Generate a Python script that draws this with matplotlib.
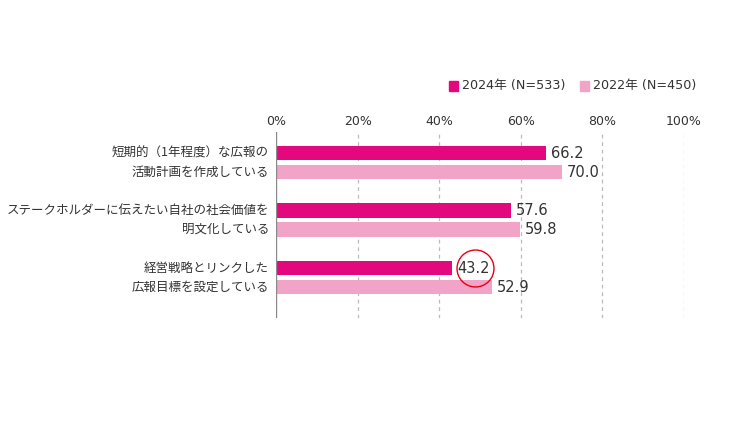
import matplotlib
matplotlib.use("Agg")
import matplotlib.pyplot as plt
import numpy as np

plt.rcParams['font.family'] = ['Noto Sans CJK JP', 'DejaVu Sans']
NUMFONT = ['DejaVu Sans', 'Noto Sans CJK JP']

categories = [
    "短期的（1年程度）な広報の\n活動計画を作成している",
    "ステークホルダーに伝えたい自社の社会価値を\n明文化している",
    "経営戦略とリンクした\n広報目標を設定している",
]
series_names = ["2024年 (N=533)", "2022年 (N=450)"]
values_2024 = [66.2, 57.6, 43.2]
values_2022 = [70.0, 59.8, 52.9]
xticks = [0, 20, 40, 60, 80, 100]
xtick_labels = ["0%", "20%", "40%", "60%", "80%", "100%"]
highlight_index = 2  # circled value (2024 series)

c_dark = "#E4087F"
c_light = "#F2A3C8"
txt = "#333333"

W, H = 750, 422
fig = plt.figure(figsize=(W / 100, H / 100), dpi=100)
ax_l, ax_r = 276 / W, 684 / W
ax_top, ax_bot = 132 / H, 318 / H
ax = fig.add_axes([ax_l, 1 - ax_bot, ax_r - ax_l, ax_bot - ax_top])

y = np.arange(len(categories))
off = 0.165
h = 0.25
ax.barh(y - off, values_2024, height=h, color=c_dark, zorder=3)
ax.barh(y + off, values_2022, height=h, color=c_light, zorder=3)

ax.set_xlim(0, 100)
ax.set_ylim(2.70, -0.53)

for s in ax.spines.values():
    s.set_visible(False)
ax.axvline(0, color="#8a8a8a", lw=1.0, zorder=4)
for xv in xticks[1:]:
    ax.axvline(xv, color="#bbbbbb", lw=0.9, ls=(0, (3, 3)), zorder=1)

ax.set_xticks(xticks)
ax.set_xticklabels(xtick_labels, family=NUMFONT)
ax.xaxis.tick_top()
ax.tick_params(axis="x", length=0, pad=3, labelsize=9, labelcolor=txt)
ax.set_yticks([])

for i, cat in enumerate(categories):
    l1, l2 = cat.split("\n")
    ax.text(-1.7, y[i] - off, l1, ha="right", va="center", fontsize=9, color=txt)
    ax.text(-1.7, y[i] + off, l2, ha="right", va="center", fontsize=9, color=txt)

for i in range(len(categories)):
    ax.text(values_2024[i] + 1.2, y[i] - off, f"{values_2024[i]:.1f}", ha="left", va="center",
            fontsize=10.5, color=txt, family=NUMFONT)
    ax.text(values_2022[i] + 1.2, y[i] + off, f"{values_2022[i]:.1f}", ha="left", va="center",
            fontsize=10.5, color=txt, family=NUMFONT)

# highlight circle
ax.plot([values_2024[highlight_index] + 5.6], [y[highlight_index] - off], marker="o",
        markersize=26.6, mfc="none", mec="#E60012", mew=1.0, zorder=5, clip_on=False)

# legend
def leg(xpx, label, color):
    fig.patches.append(plt.Rectangle((xpx / W, 1 - 91 / H), 9 / W, 10 / H,
                                     transform=fig.transFigure, color=color))
    fig.text((xpx + 13) / W, 1 - 86 / H, label, ha="left", va="center", fontsize=9.2,
             color=txt, family=NUMFONT)

leg(449, series_names[0], c_dark)
leg(580, series_names[1], c_light)

fig.savefig("out.png", dpi=100)
